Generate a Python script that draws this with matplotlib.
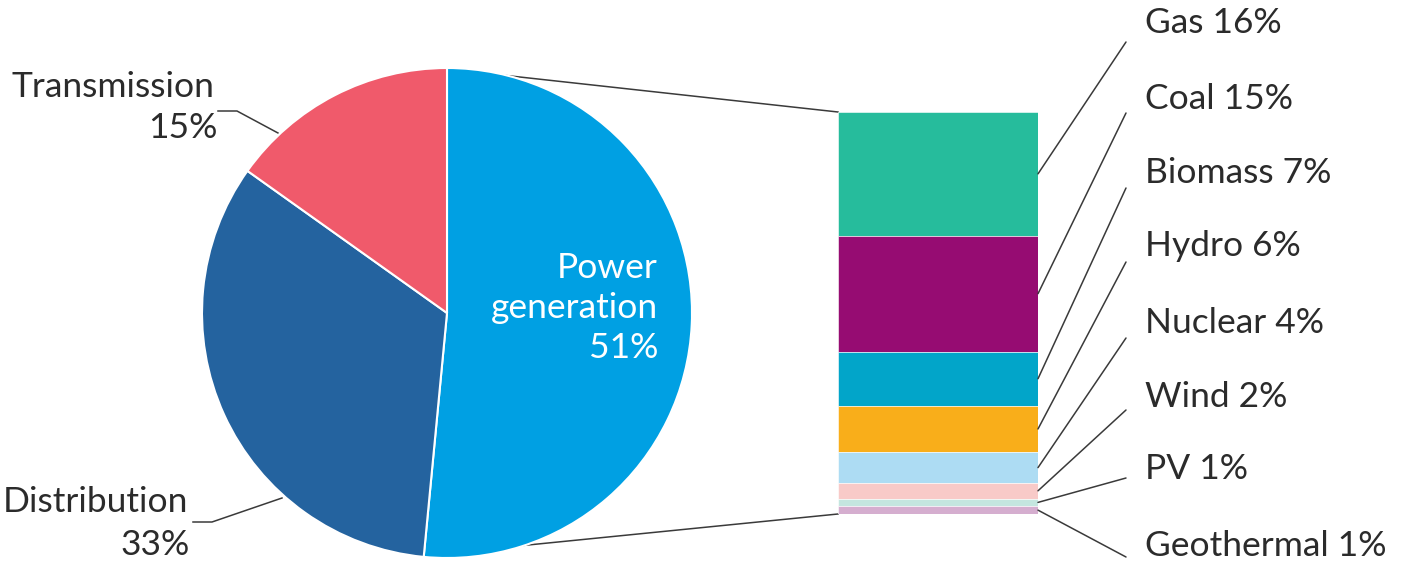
import matplotlib.pyplot as plt
from matplotlib.patches import ConnectionPatch

# Investment split across the power sector (share of total, %)
segments = ["Power\ngeneration", "Distribution", "Transmission"]
segment_share = [51, 33, 15]
segment_colors = ["#00A0E3", "#24639F", "#F05A6B"]

# Breakdown of power generation by technology (%)
techs = ["Gas", "Coal", "Biomass", "Hydro", "Nuclear", "Wind", "PV", "Geothermal"]
tech_share = [16, 15, 7, 6, 4, 2, 1, 1]
tech_colors = ["#26BC9C", "#960C72", "#02A5C9", "#F9AE1A",
               "#ADDCF3", "#F8CAC8", "#C4E6DF", "#D5AECF"]

W, H = 1403, 570
TXT = "#2b2b2b"
LINE = "#3a3a3a"
plt.rcParams["font.family"] = ["Lato", "DejaVu Sans"]
FS = 25.5

fig = plt.figure(figsize=(W / 100, H / 100), dpi=100)
ax = fig.add_axes([0, 0, 1, 1])

# pie, drawn in pixel units (y up)
cx, cy, r = 447, H - 313, 245
wedges, _ = ax.pie(segment_share, colors=segment_colors, startangle=90,
                   counterclock=False, center=(cx, cy), radius=r,
                   wedgeprops=dict(edgecolor="white", linewidth=1.5))
for w in wedges:
    w.set_zorder(3)
ax.set_xlim(0, W)
ax.set_ylim(0, H)
ax.set_aspect("auto")
ax.axis("off")

# stacked column for the generation breakdown
bx0, bx1, by_top, by_bot = 838, 1038, 112, 514
ax_bar = fig.add_axes([bx0 / W, (H - by_bot) / H, (bx1 - bx0) / W, (by_bot - by_top) / H])
total = sum(tech_share)
top = total
mids = []
for val, col in zip(tech_share, tech_colors):
    ax_bar.bar(0, val, bottom=top - val, width=1.0, color=col,
               edgecolor="white", linewidth=0.4)
    mids.append(top - val / 2)
    top -= val
ax_bar.set_xlim(-0.5, 0.5)
ax_bar.set_ylim(0, total)
ax_bar.axis("off")

# connector lines between the pie and the column (behind the pie)
ax.plot([447, bx0], [H - 69, H - by_top], color=LINE, lw=1.1, zorder=1)
ax.plot([418, bx0], [H - 556, H - by_bot], color=LINE, lw=1.1, zorder=1)

# technology labels with leader lines
label_y = [23, 99, 173, 246, 323, 397, 469, 546]
end_y = [42, 113, 188, 262, 338, 410, 478, 557]
for name, val, mid, ly, ey in zip(techs, tech_share, mids, label_y, end_y):
    con = ConnectionPatch(xyA=(0.5, mid), coordsA=ax_bar.transData,
                          xyB=(1126, H - ey), coordsB=ax.transData,
                          color=LINE, lw=1.1)
    fig.add_artist(con)
    ax.text(1145, H - ly, f"{name} {val}%", fontsize=FS, color=TXT,
            ha="left", va="center")

# pie labels
ax.text(658, H - 308, "Power\ngeneration\n51%", fontsize=FS, color="white",
        ha="right", va="center", linespacing=1.3, zorder=5)
ax.text(214, H - 87, "Transmission", fontsize=FS, color=TXT, ha="right", va="center")
ax.text(218, H - 128, "15%", fontsize=FS, color=TXT, ha="right", va="center")
ax.plot([218, 237, 278], [H - 111, H - 111, H - 133], color=LINE, lw=1.1)
ax.text(188, H - 502, "Distribution", fontsize=FS, color=TXT, ha="right", va="center")
ax.text(190, H - 545, "33%", fontsize=FS, color=TXT, ha="right", va="center")
ax.plot([193, 212, 282], [H - 522, H - 522, H - 498], color=LINE, lw=1.1)

# heading sits almost entirely above the visible area
ax.text(785, H - 0.5, "Total: USD 2.16 trillion", fontsize=FS, color="#c4c4c4",
        ha="center", va="baseline", fontweight="bold")

fig.savefig("out.png", dpi=100)
